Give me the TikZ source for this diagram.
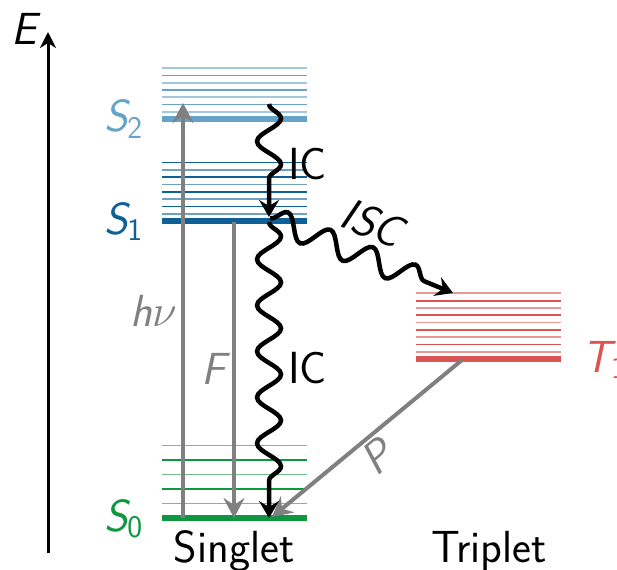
\RequirePackage{fix-cm}
\documentclass[tikz,border=0pt]{standalone}
\usepackage{fontspec}
\usetikzlibrary{arrows.meta,decorations.pathmorphing}
\definecolor{cstwo}{RGB}{102,163,200}
\definecolor{csone}{RGB}{14,96,150}
\definecolor{cszero}{RGB}{14,150,64}
\definecolor{ctone}{RGB}{218,84,84}
\definecolor{cgray}{RGB}{128,128,128}
\tikzset{
  lbl/.style={font=\sffamily\fontsize{45}{54}\selectfont, inner sep=0pt},
  mainlev/.style={line width=6pt},
  thinlev/.style={line width=1.8pt},
  grayarrow/.style={draw=cgray, line width=4pt, -{Stealth[length=20pt,width=21pt,inset=7pt]}},
  wavy/.style={draw=black, line width=4.5pt, -{Stealth[length=17pt,width=20pt,inset=6pt]},
    decorate, decoration={snake, amplitude=12pt, segment length=46pt, post length=16pt}},
}
\newcommand{\levels}[6]{% color, x1, x2, ymain, spacing, count
  \foreach \k in {1,...,#6}{
    \ifodd\k \def\lc{#1!60}\else\def\lc{#1}\fi
    \draw[thinlev, draw=\lc] (#2,#4-#5*\k) -- (#3,#4-#5*\k);
  }
  \draw[mainlev, #1] (#2,#4) -- (#3,#4);
}
\begin{document}
\begin{tikzpicture}[x=1pt,y=-1pt]
\useasboundingbox (0,0) rectangle (617,569);
% energy axis
\coordinate (ebot) at (48,553);
\coordinate (etop) at (48,32);
\draw[line width=3pt, -{Stealth[length=16pt,width=16pt,inset=5pt]}] (ebot) -- (etop);
\node[lbl, anchor=base] (elab) at (24,45) {\itshape E};
% levels
\levels{cstwo}{162}{307}{119}{7.25}{7}
\levels{csone}{162}{307}{221}{7.3}{8}
\levels{cszero}{162}{307}{518}{14.5}{5}
\levels{ctone}{416}{561}{359}{7.3}{9}
% level labels
\node[lbl, anchor=base east, text=cstwo] (s2lab) at (143,132) {\itshape S\textsubscript{\upshape 2}};
\node[lbl, anchor=base east, text=csone] (s1lab) at (143,234) {\itshape S\textsubscript{\upshape 1}};
\node[lbl, anchor=base east, text=cszero] (s0lab) at (143,531) {\itshape S\textsubscript{\upshape 0}};
\node[lbl, anchor=base west, text=ctone] (t1lab) at (582,372) {\itshape T\textsubscript{\upshape 1}};
\node[lbl, anchor=base] (singlet) at (234,562) {Singlet};
\node[lbl, anchor=base] (triplet) at (489,562) {Triplet};
% coordinates
\coordinate (hvs) at (183,518);
\coordinate (hve) at (183,103);
\coordinate (fs) at (234,222);
\coordinate (fe) at (234,518);
\coordinate (ica) at (269,104);
\coordinate (icb) at (269,217);
\coordinate (icc) at (269,222);
\coordinate (icd) at (269,518);
\coordinate (isca) at (270,218);
\coordinate (iscb) at (453,293);
\coordinate (pa) at (462,360);
\coordinate (pb) at (272,517);
% radiative
\draw[grayarrow] (hvs) -- (hve);
\draw[grayarrow] (fs) -- (fe);
\draw[grayarrow] (pa) -- (pb);
\node[lbl, anchor=base east, text=cgray] (hvlab) at (177,326) {\itshape h$\nu$};
\node[lbl, anchor=base, text=cgray] (flab) at (214,384) {\itshape F};
\node[lbl, text=cgray, rotate=40] (plab) at (377,457) {\itshape P};
% non-radiative
\draw[wavy] (ica) -- (icb);
\draw[wavy] (icc) -- (icd);
\draw[wavy] (isca) -- (iscb);
\node[lbl, anchor=base west] (ic1) at (288,179) {IC};
\node[lbl, anchor=base west] (ic2) at (288,383) {IC};
\node[lbl, rotate=-22] (isclab) at (372,223) {\itshape ISC};
\end{tikzpicture}
\end{document}
